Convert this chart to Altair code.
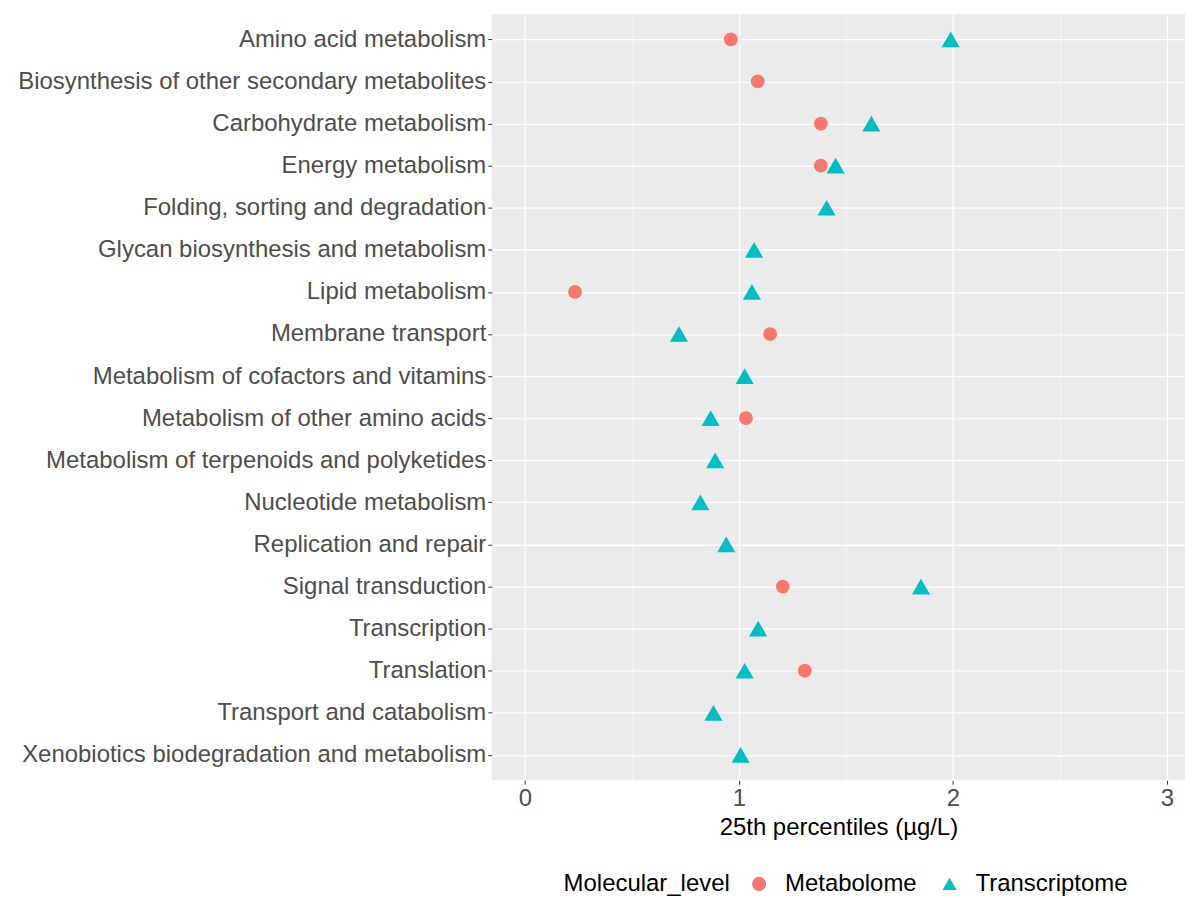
import altair as alt
import pandas as pd

pathways = [
    "Amino acid metabolism",
    "Biosynthesis of other secondary metabolites",
    "Carbohydrate metabolism",
    "Energy metabolism",
    "Folding, sorting and degradation",
    "Glycan biosynthesis and metabolism",
    "Lipid metabolism",
    "Membrane transport",
    "Metabolism of cofactors and vitamins",
    "Metabolism of other amino acids",
    "Metabolism of terpenoids and polyketides",
    "Nucleotide metabolism",
    "Replication and repair",
    "Signal transduction",
    "Transcription",
    "Translation",
    "Transport and catabolism",
    "Xenobiotics biodegradation and metabolism",
]

metab_pathways = [
    "Amino acid metabolism",
    "Biosynthesis of other secondary metabolites",
    "Carbohydrate metabolism",
    "Energy metabolism",
    "Lipid metabolism",
    "Membrane transport",
    "Metabolism of other amino acids",
    "Signal transduction",
    "Translation",
]
metab_values = [0.962, 1.088, 1.383, 1.383, 0.234, 1.146, 1.033, 1.205, 1.308]

trans_pathways = [
    "Amino acid metabolism",
    "Carbohydrate metabolism",
    "Energy metabolism",
    "Folding, sorting and degradation",
    "Glycan biosynthesis and metabolism",
    "Lipid metabolism",
    "Membrane transport",
    "Metabolism of cofactors and vitamins",
    "Metabolism of other amino acids",
    "Metabolism of terpenoids and polyketides",
    "Nucleotide metabolism",
    "Replication and repair",
    "Signal transduction",
    "Transcription",
    "Translation",
    "Transport and catabolism",
    "Xenobiotics biodegradation and metabolism",
]
trans_values = [1.99, 1.619, 1.452, 1.41, 1.071, 1.061, 0.72, 1.027, 0.868,
                0.889, 0.82, 0.941, 1.851, 1.09, 1.027, 0.881, 1.008]

levels = ["Metabolome", "Transcriptome"]
colors = ["#F8766D", "#00BFC4"]
shapes = ["circle", "triangle-up"]
x_ticks = [0, 0.5, 1, 1.5, 2, 2.5, 3]

df = pd.DataFrame(
    {
        "Pathway": metab_pathways + trans_pathways,
        "Value": metab_values + trans_values,
        "Molecular_level": ["Metabolome"] * len(metab_values)
        + ["Transcriptome"] * len(trans_values),
        "order": [0] * len(metab_values) + [1] * len(trans_values),
    }
)

FONT = "Liberation Sans"
FS = 24

base = alt.Chart(df).encode(
    x=alt.X(
        "Value:Q",
        title="25th percentiles (µg/L)",
        scale=alt.Scale(domain=[-0.155, 3.085], nice=False, zero=False),
        axis=alt.Axis(
            values=x_ticks,
            labelExpr="datum.value % 1 === 0 ? toString(datum.value) : ''",
            grid=True,
            gridColor="white",
            gridWidth={"condition": {"test": "datum.value % 1 === 0", "value": 1.3}, "value": 0.6},
            tickOpacity={"condition": {"test": "datum.value % 1 === 0", "value": 1}, "value": 0},
            tickColor="#333333",
            tickSize=4,
            tickWidth=1,
            domain=False,
            labelColor="#4D4D4D",
            labelFontSize=FS,
            labelFont=FONT,
            labelPadding=2,
            titleFont=FONT,
            titleFontSize=FS,
            titleFontWeight="normal",
            titleColor="black",
            titlePadding=5,
        ),
    ),
    y=alt.Y(
        "Pathway:N",
        title=None,
        sort=pathways,
        scale=alt.Scale(type="point", domain=pathways, padding=0.6),
        axis=alt.Axis(
            grid=True,
            gridColor="white",
            gridWidth=1.3,
            tickColor="#333333",
            tickSize=4,
            domain=False,
            labelColor="#4D4D4D",
            labelFontSize=FS,
            labelFont=FONT,
            labelLimit=700,
            labelPadding=2,
        ),
    ),
    color=alt.Color(
        "Molecular_level:N",
        scale=alt.Scale(domain=levels, range=colors),
        legend=alt.Legend(
            title="Molecular_level",
            orient="none",
            direction="horizontal",
            titleOrient="left",
            legendX=72,
            legendY=860,
            titleFont=FONT,
            titleFontSize=FS,
            titleFontWeight="normal",
            titleColor="black",
            labelFont=FONT,
            labelFontSize=FS,
            labelColor="black",
            symbolSize=200,
            symbolStrokeWidth=0,
            symbolOpacity=1,
            columnPadding=20,
            titlePadding=17,
            labelOffset=14,
        ),
    ),
    shape=alt.Shape(
        "Molecular_level:N",
        scale=alt.Scale(domain=levels, range=shapes),
    ),
    order=alt.Order("order:Q"),
)

chart = (
    base.mark_point(filled=True, opacity=1)
    .encode(size=alt.condition(alt.datum.Molecular_level == "Transcriptome", alt.value(330), alt.value(190)))
    .properties(width=695, height=768, padding={"left": 9, "top": 5, "right": 0, "bottom": 5})
    .configure(background="white")
    .configure_view(fill="#EBEBEB", strokeWidth=0)
)

chart.save("out.html", embed_options={"renderer": "svg", "actions": False})
